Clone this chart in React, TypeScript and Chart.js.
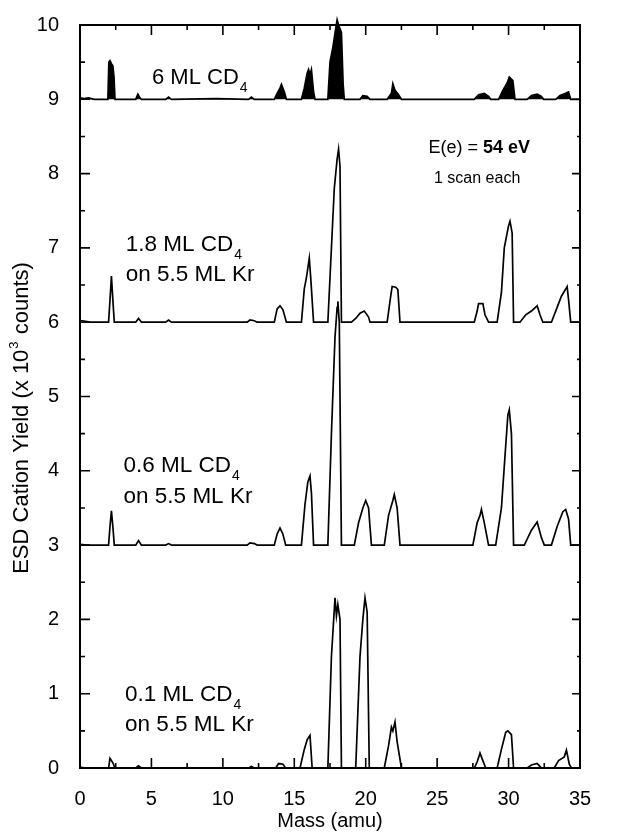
import React, { useEffect, useRef } from "react";
import Chart from "chart.js/auto";

// Spectra: [mass (amu), yield above the trace's own baseline (x10^3 counts)]
const spec6ML: [number, number][] = [
  [0, 0.02], [0.3, 0.01], [0.6, 0.02], [1.0, 0], [1.95, 0], [2.02, 0.5], [2.1, 0.52], [2.2, 0.48], [2.3, 0.45], [2.38, 0.3], [2.45, 0],
  [3.9, 0], [4.05, 0.07], [4.2, 0.02], [4.3, 0], [6.0, 0], [6.2, 0.03], [6.4, 0], [9.5, 0.01], [11.8, 0], [12.0, 0.03], [12.2, 0],
  [13.6, 0], [13.8, 0.08], [14.0, 0.15], [14.1, 0.2], [14.3, 0.1], [14.45, 0],
  [15.5, 0], [15.7, 0.15], [15.9, 0.35], [16.0, 0.4], [16.1, 0.33], [16.2, 0.4], [16.35, 0.1], [16.45, 0],
  [17.35, 0], [17.5, 0.5], [17.7, 0.7], [17.9, 0.95], [18.0, 1.07], [18.1, 1.0], [18.3, 0.9], [18.42, 0.2], [18.5, 0],
  [19.6, 0], [19.8, 0.05], [20.1, 0.04], [20.3, 0], [21.5, 0], [21.8, 0.08], [21.9, 0.21], [22.05, 0.12], [22.3, 0.06], [22.5, 0],
  [27.6, 0], [27.9, 0.06], [28.3, 0.08], [28.6, 0.04], [28.75, 0],
  [29.3, 0], [29.6, 0.12], [29.9, 0.22], [30.05, 0.3], [30.3, 0.25], [30.45, 0],
  [31.3, 0], [31.6, 0.05], [32.0, 0.07], [32.3, 0.04], [32.45, 0], [33.3, 0], [33.6, 0.05], [34.0, 0.08], [34.2, 0.1], [34.35, 0], [35, 0],
];

const spec18ML: [number, number][] = [
  [0, 0.02], [0.4, 0.01], [0.7, 0], [2.0, 0], [2.1, 0.3], [2.2, 0.62], [2.3, 0.3], [2.4, 0],
  [3.9, 0], [4.1, 0.05], [4.3, 0], [6.0, 0], [6.2, 0.03], [6.4, 0], [11.7, 0], [11.9, 0.03], [12.2, 0.02], [12.4, 0],
  [13.6, 0], [13.8, 0.18], [14.0, 0.22], [14.2, 0.17], [14.45, 0],
  [15.5, 0], [15.7, 0.45], [15.85, 0.6], [16.05, 0.86], [16.15, 0.6], [16.35, 0],
  [17.35, 0], [17.55, 0.8], [17.8, 1.8], [18.0, 2.2], [18.1, 2.33], [18.2, 2.1], [18.3, 0],
  [19.0, 0], [19.3, 0.05], [19.6, 0.12], [19.9, 0.15], [20.2, 0.07], [20.3, 0],
  [21.5, 0], [21.75, 0.35], [21.85, 0.48], [22.1, 0.47], [22.25, 0.44], [22.4, 0],
  [27.6, 0], [27.8, 0.15], [27.9, 0.25], [28.2, 0.25], [28.35, 0.1], [28.6, 0],
  [29.2, 0], [29.5, 0.4], [29.7, 1.0], [29.85, 1.15], [30.0, 1.3], [30.1, 1.36], [30.25, 1.2], [30.35, 0],
  [30.8, 0], [31.2, 0.1], [31.6, 0.15], [32.0, 0.22], [32.2, 0.1], [32.4, 0],
  [33.0, 0], [33.4, 0.2], [33.7, 0.35], [34.1, 0.48], [34.2, 0.3], [34.35, 0], [35, 0],
];

const spec06ML: [number, number][] = [
  [0, 0.01], [0.5, 0], [2.0, 0], [2.1, 0.25], [2.2, 0.46], [2.3, 0.25], [2.4, 0],
  [3.9, 0], [4.1, 0.06], [4.3, 0], [6.0, 0], [6.2, 0.02], [6.4, 0], [11.7, 0], [11.9, 0.03], [12.2, 0.02], [12.4, 0],
  [13.6, 0], [13.8, 0.15], [14.0, 0.23], [14.2, 0.15], [14.4, 0],
  [15.5, 0], [15.75, 0.55], [15.95, 0.85], [16.1, 0.93], [16.2, 0.7], [16.35, 0],
  [17.35, 0], [17.6, 1.5], [17.85, 2.8], [18.0, 3.2], [18.05, 3.28], [18.15, 3.0], [18.3, 0],
  [19.2, 0], [19.5, 0.3], [19.8, 0.5], [20.0, 0.6], [20.2, 0.5], [20.4, 0],
  [21.3, 0], [21.6, 0.4], [21.9, 0.6], [22.0, 0.68], [22.2, 0.5], [22.4, 0],
  [27.5, 0], [27.8, 0.3], [28.0, 0.4], [28.1, 0.48], [28.3, 0.3], [28.6, 0],
  [29.1, 0], [29.5, 0.5], [29.75, 1.2], [29.95, 1.75], [30.05, 1.82], [30.2, 1.5], [30.35, 0],
  [31.1, 0], [31.6, 0.2], [32.0, 0.31], [32.3, 0.1], [32.5, 0],
  [33.0, 0], [33.4, 0.25], [33.8, 0.45], [34.0, 0.48], [34.2, 0.35], [34.35, 0], [35, 0],
];

const spec01ML: [number, number][] = [
  [0, 0.01], [0.5, 0], [2.0, 0], [2.1, 0.13], [2.3, 0.07], [2.45, 0],
  [3.9, 0], [4.1, 0.03], [4.3, 0], [11.8, 0], [12.0, 0.02], [12.2, 0],
  [13.7, 0], [13.9, 0.06], [14.2, 0.05], [14.4, 0],
  [15.4, 0], [15.7, 0.25], [15.9, 0.38], [16.1, 0.44], [16.25, 0],
  [17.35, 0], [17.6, 1.5], [17.85, 2.29], [17.95, 2.05], [18.05, 2.2], [18.2, 2.0], [18.3, 0],
  [19.3, 0], [19.6, 1.5], [19.8, 2.0], [19.95, 2.29], [20.1, 2.1], [20.25, 0],
  [21.3, 0], [21.6, 0.3], [21.8, 0.55], [21.9, 0.5], [22.05, 0.62], [22.2, 0.35], [22.5, 0],
  [27.6, 0], [27.8, 0.08], [28.0, 0.2], [28.2, 0.1], [28.4, 0],
  [29.2, 0], [29.5, 0.25], [29.8, 0.48], [29.95, 0.5], [30.2, 0.45], [30.35, 0],
  [31.3, 0], [31.6, 0.04], [32.0, 0.06], [32.3, 0],
  [33.2, 0], [33.5, 0.1], [33.9, 0.15], [34.05, 0.24], [34.25, 0.05], [34.4, 0], [35, 0],
];

const baselineOffsets = [9, 6, 3, 0];
const coverageLabels = ["6 ML CD", "1.8 ML CD", "0.6 ML CD", "0.1 ML CD"];
const xTicks = [0, 5, 10, 15, 20, 25, 30, 35];
const yTicks = [0, 1, 2, 3, 4, 5, 6, 7, 8, 9, 10];

const FONT = "'Liberation Sans', Arial, Helvetica, sans-serif";

const toPoints = (spec: [number, number][], off: number) => spec.map(([m, v]) => ({ x: m, y: v + off }));

const framePlugin = {
  id: "frameTicks",
  afterDatasetsDraw(chart: any) {
    const { ctx, chartArea: a, scales } = chart;
    const xs = scales.x, ys = scales.y;
    ctx.save();
    ctx.strokeStyle = "#000";
    ctx.lineWidth = 2;
    ctx.strokeRect(a.left, a.top, a.right - a.left, a.bottom - a.top);
    ctx.lineWidth = 1.6;
    ctx.beginPath();
    for (let v = 0; v <= 35.001; v += 2.5) {
      const px = xs.getPixelForValue(v);
      const major = Math.abs(v % 5) < 1e-6;
      const len = major ? 10 : 5;
      ctx.moveTo(px, a.bottom); ctx.lineTo(px, a.bottom - len);
      ctx.moveTo(px, a.top); ctx.lineTo(px, a.top + len);
    }
    for (let v = 0; v <= 10.001; v += 0.5) {
      const py = ys.getPixelForValue(v);
      const major = Math.abs(v % 1) < 1e-6;
      ctx.moveTo(a.left, py); ctx.lineTo(a.left + (major ? 10 : 5), py);
      ctx.moveTo(a.right, py); ctx.lineTo(a.right - (major ? 8 : 3), py);
    }
    ctx.stroke();
    ctx.restore();
  },
  afterDraw(chart: any) {
    const { ctx, chartArea: a, scales } = chart;
    const xs = scales.x, ys = scales.y;
    const X = (m: number) => xs.getPixelForValue(m);
    const Y = (v: number) => ys.getPixelForValue(v);
    ctx.save();
    ctx.fillStyle = "#000";
    ctx.textBaseline = "alphabetic";
    ctx.textAlign = "left";
    const sub = (main: string, s: string, x: number, y: number, size: number) => {
      ctx.font = `${size}px ${FONT}`;
      ctx.fillText(main, x, y);
      const w = ctx.measureText(main).width;
      ctx.font = `${Math.round(size * 0.62)}px ${FONT}`;
      ctx.fillText(s, x + w + 1, y + size * 0.35);
    };
    // coverage labels
    sub(coverageLabels[0], "4", X(5.04), Y(9.2), 22);
    const pairs = [
      [3.2, 6.96, 6.56],
      [3.05, 3.98, 3.57],
      [3.15, 0.9, 0.5],
    ];
    pairs.forEach(([m, y1, y2], i) => {
      sub(coverageLabels[i + 1], "4", X(m), Y(y1), 22.5);
      ctx.font = `22.5px ${FONT}`;
      ctx.fillText("on 5.5 ML Kr", X(m), Y(y2));
    });
    // energy note
    const t1 = "E(e) = ";
    const t2 = "54 eV";
    ctx.font = `bold 18px ${FONT}`;
    const w2 = ctx.measureText(t2).width;
    ctx.font = `18px ${FONT}`;
    const w1 = ctx.measureText(t1).width;
    const cx = X(27.95);
    const x0 = cx - (w1 + w2) / 2;
    ctx.fillText(t1, x0, Y(8.28));
    ctx.font = `bold 18px ${FONT}`;
    ctx.fillText(t2, x0 + w1, Y(8.28));
    ctx.font = `16px ${FONT}`;
    ctx.textAlign = "center";
    ctx.fillText("1 scan each", X(27.8), Y(7.87));
    // x title
    ctx.font = `20px ${FONT}`;
    ctx.fillText("Mass (amu)", (a.left + a.right) / 2, 827);
    // y title (rotated)
    ctx.translate(28, 418);
    ctx.rotate(-Math.PI / 2);
    const size = 22;
    ctx.font = `${size}px ${FONT}`;
    const p1 = "ESD Cation Yield (x 10";
    const p3 = " counts)";
    const wp1 = ctx.measureText(p1).width;
    const wp3 = ctx.measureText(p3).width;
    ctx.font = `13px ${FONT}`;
    const wsup = ctx.measureText("3").width + 2;
    const total = wp1 + wsup + wp3;
    const sx = -total / 2;
    ctx.textAlign = "left";
    ctx.font = `${size}px ${FONT}`;
    ctx.fillText(p1, sx, 0);
    ctx.font = `13px ${FONT}`;
    ctx.fillText("3", sx + wp1 + 1, -10);
    ctx.font = `${size}px ${FONT}`;
    ctx.fillText(p3, sx + wp1 + wsup, 0);
    ctx.restore();
  },
};

export default function App() {
  const ref = useRef<HTMLCanvasElement | null>(null);
  useEffect(() => {
    if (!ref.current) return;
    const specs = [spec6ML, spec18ML, spec06ML, spec01ML];
    const chart = new Chart(ref.current, {
      type: "line",
      data: {
        datasets: specs.map((s, i) => ({
          label: coverageLabels[i],
          data: toPoints(s, baselineOffsets[i]),
          borderColor: "#000",
          backgroundColor: "#000",
          borderWidth: 1.7,
          pointRadius: 0,
          tension: 0,
          fill: i === 0 ? { value: baselineOffsets[0] } : false,
          clip: i === 0 ? false : undefined,
        })) as any,
      },
      options: {
        responsive: false,
        animation: false,
        events: [],
        layout: { padding: { top: 17, right: 37, left: 0, bottom: 0 } },
        plugins: { legend: { display: false }, tooltip: { enabled: false } },
        scales: {
          x: {
            type: "linear",
            min: 0,
            max: 35,
            afterBuildTicks: (s: any) => { s.ticks = xTicks.map((v) => ({ value: v })); },
            afterFit: (s: any) => { s.height = 64; },
            grid: { display: false },
            border: { display: false },
            ticks: { color: "#000", font: { family: FONT, size: 20 }, padding: 11, maxRotation: 0 },
          },
          y: {
            type: "linear",
            min: 0,
            max: 10,
            afterBuildTicks: (s: any) => { s.ticks = yTicks.map((v) => ({ value: v })); },
            afterFit: (s: any) => { s.width = 80; },
            grid: { display: false },
            border: { display: false },
            ticks: { color: "#000", font: { family: FONT, size: 20 }, padding: 13 },
          },
        },
      },
      plugins: [framePlugin],
    });
    return () => chart.destroy();
  }, []);
  return (
    <div style={{ position: "absolute", left: 0, top: 0, width: 617, height: 832, background: "#fff" }}>
      <canvas ref={ref} width={617} height={832} style={{ display: "block" }} />
    </div>
  );
}
